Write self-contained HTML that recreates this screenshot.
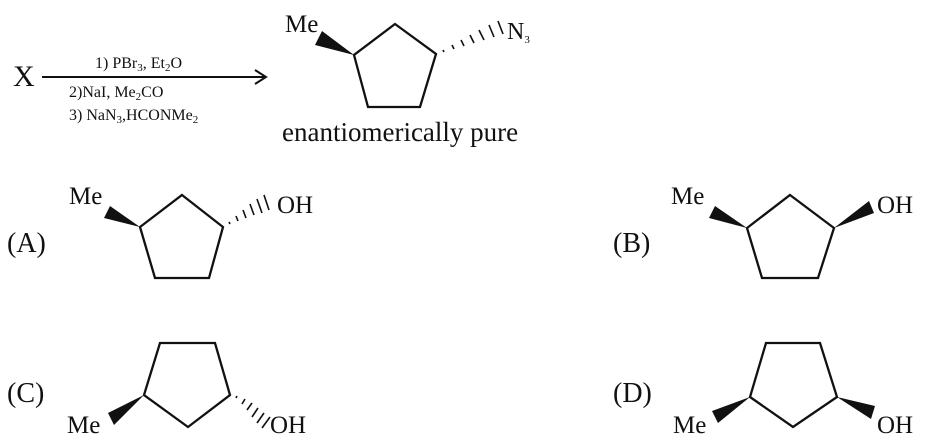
<!DOCTYPE html>
<html><head><style>body{margin:0;background:#fff}svg{display:block}text{font-family:"Liberation Serif",serif;fill:#111}</style></head><body>
<svg width="939" height="443" viewBox="0 0 939 443" xmlns="http://www.w3.org/2000/svg">
<g stroke="#111" stroke-width="2.3" fill="none" stroke-linejoin="miter">
<polygon points="395,24 436,54 420,107 368,107 354,55"/>
<polygon points="182,195 223,227 209,278 155,278 140,227"/>
<polygon points="160,343 215,343 230,395 188,427 144,395"/>
<polygon points="790,195 834,228 818,278 762,278 747,228"/>
<polygon points="766,343 820,343 837,397 793,427 750,397"/>
<line x1="42" y1="77" x2="264" y2="77" stroke-width="2"/>
<polyline points="255,70 266,77 255,84" stroke-width="2"/>
</g>
<g fill="#111">
<polygon points="354,55 322,31 315,45"/>
<polygon points="140,227 110,206 104,218"/>
<polygon points="144,395 108,413 114,425"/>
<polygon points="747,228 715,206 709,218"/>
<polygon points="834,228 869,201 874,213"/>
<polygon points="750,397 712,411 718,423"/>
<polygon points="837,397 875,406 871,419"/>
</g>
<g stroke="#111" stroke-width="1.6">
<line x1="444" y1="52" x2="443" y2="50"/><line x1="454" y1="49" x2="452" y2="45"/><line x1="464" y1="46" x2="461" y2="40"/><line x1="474" y1="43" x2="470" y2="35"/><line x1="484" y1="40" x2="479" y2="30"/><line x1="494" y1="37" x2="489" y2="25"/><line x1="503" y1="34" x2="498" y2="21"/>
<line x1="230" y1="224" x2="229" y2="222"/><line x1="238" y1="221" x2="236" y2="216"/><line x1="246" y1="218" x2="243" y2="210"/><line x1="254" y1="215" x2="250" y2="204"/><line x1="262" y1="213" x2="257" y2="199"/><line x1="269" y1="210" x2="264" y2="195"/>
<line x1="236" y1="398" x2="237" y2="396"/><line x1="242" y1="404" x2="245" y2="399"/><line x1="247" y1="410" x2="252" y2="403"/><line x1="252" y1="417" x2="258" y2="408"/><line x1="257" y1="423" x2="264" y2="413"/><line x1="262" y1="428" x2="270" y2="417"/>
</g>
<g font-size="28">
<text x="13" y="86" font-size="30">X</text>
<text x="285" y="32" font-size="25">Me</text>
<text x="507" y="39" font-size="24">N<tspan font-size="11" dy="4">3</tspan></text>
<text x="282" y="141" font-size="27">enantiomerically pure</text>
<text x="7" y="252">(A)</text>
<text x="69" y="204" font-size="25">Me</text>
<text x="277" y="213" font-size="25">OH</text>
<text x="7" y="402">(C)</text>
<text x="67" y="433" font-size="25">Me</text>
<text x="270" y="433" font-size="25">OH</text>
<text x="613" y="252">(B)</text>
<text x="671" y="204" font-size="25">Me</text>
<text x="877" y="213" font-size="25">OH</text>
<text x="613" y="402">(D)</text>
<text x="673" y="433" font-size="25">Me</text>
<text x="877" y="433" font-size="25">OH</text>
</g>
<g font-size="16">
<text x="95" y="68">1) PBr<tspan font-size="11" dy="3">3</tspan><tspan dy="-3">, Et</tspan><tspan font-size="11" dy="3">2</tspan><tspan dy="-3">O</tspan></text>
<text x="69" y="97">2)NaI, Me<tspan font-size="11" dy="3">2</tspan><tspan dy="-3">CO</tspan></text>
<text x="69" y="120">3) NaN<tspan font-size="11" dy="3">3</tspan><tspan dy="-3">,HCONMe</tspan><tspan font-size="11" dy="3">2</tspan></text>
</g>
</svg>
</body></html>
